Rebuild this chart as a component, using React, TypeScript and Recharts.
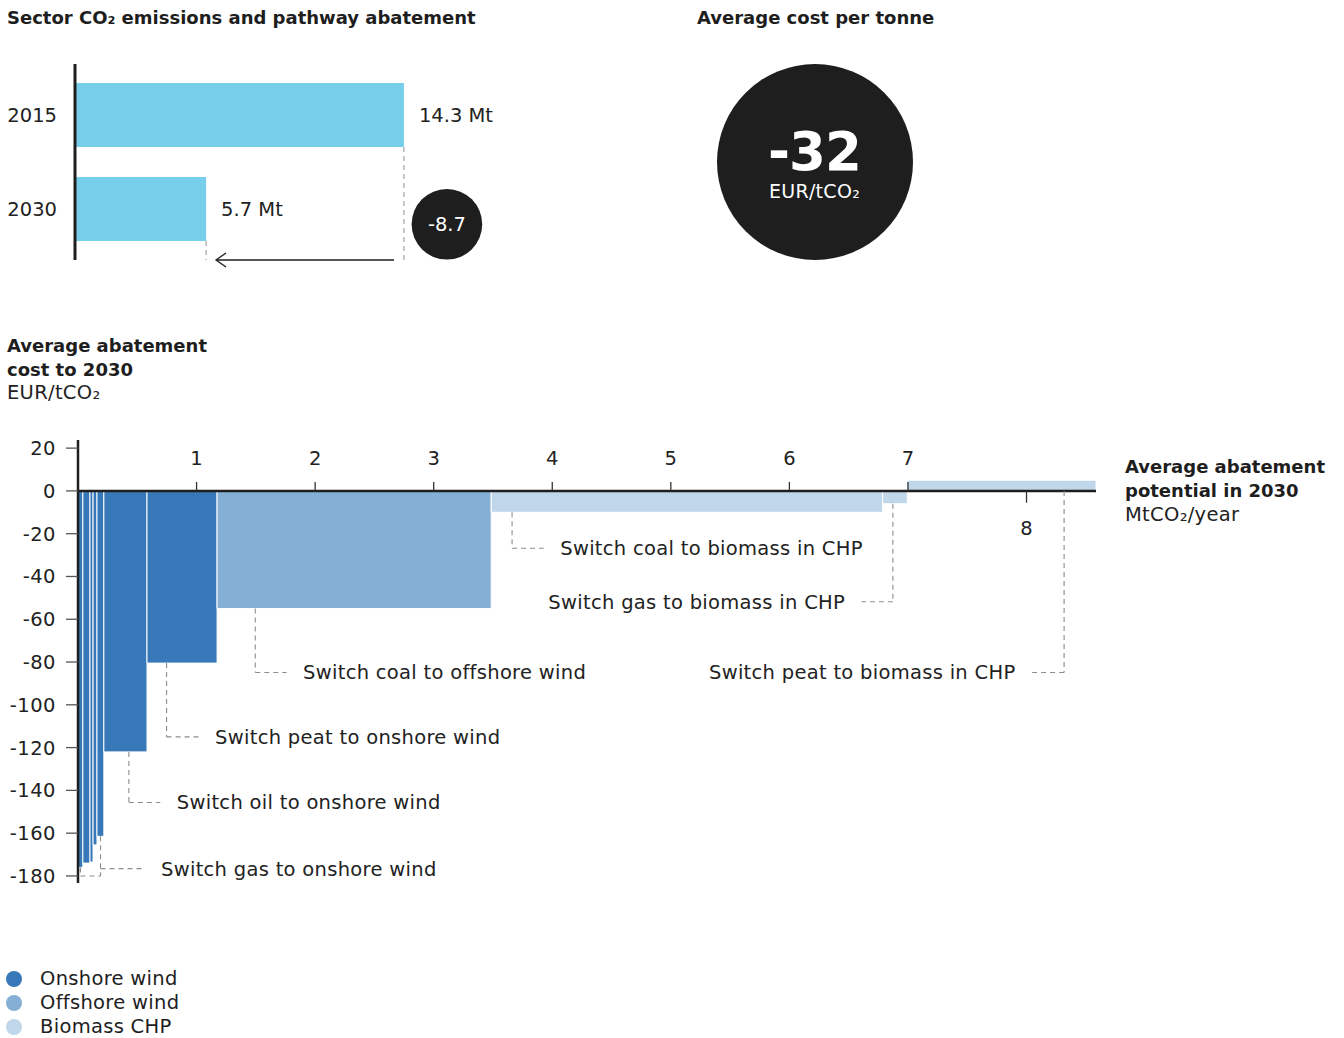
import React from 'react';
import {
  ComposedChart,
  Line,
  XAxis,
  YAxis,
  ReferenceArea,
  ReferenceLine,
  ReferenceDot,
} from 'recharts';

// ---------- data ----------
const emissionYears = ['2015', '2030'];
const emissionValues = [14.3, 5.7];
const abatementDelta = -8.7;
const averageCostPerTonne = -32;

const measureTech = [
  'Onshore wind', 'Onshore wind', 'Onshore wind', 'Onshore wind', 'Onshore wind',
  'Onshore wind', 'Onshore wind', 'Offshore wind', 'Biomass CHP', 'Biomass CHP', 'Biomass CHP',
];
const measurePotential = [0.041, 0.06, 0.026, 0.033, 0.058, 0.364, 0.591, 2.312, 3.302, 0.207, 1.592];
const measureCost = [-176, -174, -173.5, -165.5, -161.5, -122, -80.5, -55, -10, -6, 5];

const groupLabels = [
  'Switch gas to onshore wind',
  'Switch oil to onshore wind',
  'Switch peat to onshore wind',
  'Switch coal to offshore wind',
  'Switch coal to biomass in CHP',
  'Switch gas to biomass in CHP',
  'Switch peat to biomass in CHP',
];
const groupBars = [[0, 1, 2, 3, 4], [5], [6], [7], [8], [9], [10]];

const xTickValues = [1, 2, 3, 4, 5, 6, 7, 8];
const yTickValues = [20, 0, -20, -40, -60, -80, -100, -120, -140, -160, -180];
const legendTechs = ['Onshore wind', 'Offshore wind', 'Biomass CHP'];

// ---------- annotation layout (leader placement, in axis units) ----------
const leaderX = [0.19, 0.429, 0.747, 1.495, 3.661, 6.873, 8.317];
const leaderY = [-176.6, -145.7, -115, -84.9, -26.8, -51.8, -84.9];
const leaderEnd = [0.561, 0.694, 1.017, 1.759, 3.928, 6.609, 8.046];

// ---------- styles ----------
const FONT = '"DejaVu Sans", sans-serif';
const INK = '#1E1E1E';
const TEXT = '#222222';
const DASH = '#8C8C8C';
const techColors: Record<string, string> = {
  'Onshore wind': '#3778B8',
  'Offshore wind': '#86AFD5',
  'Biomass CHP': '#C0D6EA',
};

const starts: number[] = [];
measurePotential.reduce((acc, w, i) => {
  starts[i] = acc;
  return acc + w;
}, 0);
const totalPotential = measurePotential.reduce((a, b) => a + b, 0);
const maccRows = measureCost.map((c, i) => ({ mid: starts[i] + measurePotential[i] / 2, cost: c }));

const emissionRows = emissionYears.map((year, i) => ({
  year,
  value: emissionValues[i],
  row: emissionYears.length - 1 - i,
}));

// top chart layout (row units)
const ROW_PAD = 0.5426;
const BAR_HALF = 32 / 94;
const AXIS_BOTTOM = -ROW_PAD;
const ARROW_GAP = 0.43;

const ArrowShape = (p: any) => {
  const { x1, y1, x2, y2 } = p;
  return (
    <g>
      <line x1={x1} y1={y1} x2={x2} y2={y2} stroke={INK} strokeWidth={1.3} />
      <path d={`M${x2 + 10},${y2 - 7} L${x2},${y2} L${x2 + 10},${y2 + 7}`} fill="none" stroke={INK} strokeWidth={1.3} />
    </g>
  );
};

const labelStyle = { fill: TEXT, fontSize: 19.5, letterSpacing: 0.3 };

function EmissionsChart() {
  return (
    <ComposedChart
      width={540}
      height={218}
      data={emissionRows}
      margin={{ top: 14, right: 5, bottom: 8, left: 0 }}
      style={{ overflow: 'visible' }}
    >
      <XAxis type="number" dataKey="value" domain={[0, 20]} hide allowDataOverflow />
      <YAxis
        type="number"
        domain={[-ROW_PAD, emissionYears.length - 1 + ROW_PAD]}
        ticks={emissionRows.map((r) => r.row)}
        interval={0}
        allowDataOverflow
        tickFormatter={(v: any) => emissionRows.find((r) => r.row === v)?.year ?? ''}
        width={75}
        axisLine={{ stroke: INK, strokeWidth: 3 }}
        tickLine={false}
        tickSize={0}
        tickMargin={18}
        tick={{ fill: TEXT, fontSize: 19.5 }}
      />
      <Line dataKey="row" stroke="none" dot={false} activeDot={false} legendType="none" isAnimationActive={false} />
      {emissionRows.map((r) => (
        <ReferenceArea
          key={'e' + r.year}
          x1={0}
          x2={r.value}
          y1={r.row - BAR_HALF}
          y2={r.row + BAR_HALF}
          fill="#76CEEA"
          fillOpacity={1}
          stroke="none"
          ifOverflow="visible"
          label={{ value: `${r.value} Mt`, position: 'right', offset: 15, fill: TEXT, fontSize: 19.5 }}
        />
      ))}
      {emissionRows.map((r) => (
        <ReferenceLine
          key={'d' + r.year}
          segment={[{ x: r.value, y: r.row - BAR_HALF }, { x: r.value, y: AXIS_BOTTOM }]}
          stroke="#A3A3A3"
          strokeWidth={1.2}
          strokeDasharray="5 4"
          ifOverflow="visible"
        />
      ))}
      <ReferenceLine
        segment={[
          { x: emissionValues[0] - ARROW_GAP, y: AXIS_BOTTOM },
          { x: emissionValues[1] + ARROW_GAP, y: AXIS_BOTTOM },
        ]}
        ifOverflow="visible"
        shape={ArrowShape}
      />
      <ReferenceDot
        x={16.17}
        y={-0.163}
        r={35.3}
        fill={INK}
        stroke="none"
        ifOverflow="visible"
        label={{ value: String(abatementDelta), position: 'center', fill: '#fff', fontSize: 19.5 }}
      />
    </ComposedChart>
  );
}

function MaccChart() {
  // a tick sits below the axis only when it falls well inside a bar that rises above zero
  const positiveCovers = (t: number) =>
    measureCost.some(
      (c, i) => c > 0 && t - starts[i] > 0.1 && starts[i] + measurePotential[i] - t > 0.1,
    );

  const leaders: React.ReactNode[] = [];
  groupBars.forEach((bars, g) => {
    const lastBar = bars[bars.length - 1];
    const barBottom = Math.min(0, measureCost[lastBar]);
    const common = { stroke: DASH, strokeWidth: 1.1, strokeDasharray: '5 4', ifOverflow: 'visible' as const };
    let verticalEnd = leaderY[g];
    if (bars.length > 1) {
      const firstBar = bars[0];
      const bracketY = Math.min(...bars.map((b) => measureCost[b])) - 4;
      const firstMid = starts[firstBar] + measurePotential[firstBar] / 2;
      verticalEnd = Math.min(verticalEnd, bracketY);
      leaders.push(
        <ReferenceLine key={`bk1-${g}`} {...common} segment={[{ x: firstMid, y: measureCost[firstBar] }, { x: firstMid, y: bracketY }]} />,
        <ReferenceLine key={`bk2-${g}`} {...common} segment={[{ x: firstMid, y: bracketY }, { x: leaderX[g], y: bracketY }]} />,
      );
    }
    leaders.push(
      <ReferenceLine key={`v-${g}`} {...common} segment={[{ x: leaderX[g], y: barBottom }, { x: leaderX[g], y: verticalEnd }]} />,
    );
    const toRight = leaderEnd[g] > leaderX[g];
    leaders.push(
      <ReferenceLine
        key={`h-${g}`}
        {...common}
        segment={[{ x: leaderX[g], y: leaderY[g] }, { x: leaderEnd[g], y: leaderY[g] }]}
        label={{ value: groupLabels[g], position: toRight ? 'right' : 'left', offset: 16.5, ...labelStyle }}
      />,
    );
  });

  return (
    <ComposedChart
      width={1110}
      height={480}
      data={maccRows}
      margin={{ top: 20, right: 14, bottom: 17, left: 0 }}
      style={{ overflow: 'visible' }}
    >
      <XAxis type="number" dataKey="mid" domain={[0, totalPotential]} hide allowDataOverflow />
      <YAxis
        type="number"
        domain={[-183.3, 23.8]}
        ticks={yTickValues}
        allowDataOverflow
        interval={0}
        width={78}
        axisLine={{ stroke: INK, strokeWidth: 2.5 }}
        tickLine={{ stroke: '#555', strokeWidth: 1.3 }}
        tickSize={12}
        tickMargin={10}
        tick={{ fill: TEXT, fontSize: 19.5, letterSpacing: 0.5 }}
      />
      <Line dataKey="cost" stroke="none" dot={false} activeDot={false} legendType="none" isAnimationActive={false} />
      {measureCost.map((c, i) => (
        <ReferenceArea
          key={'bar' + i}
          x1={starts[i]}
          x2={starts[i] + measurePotential[i]}
          y1={0}
          y2={c}
          fill={techColors[measureTech[i]]}
          fillOpacity={1}
          stroke="#ffffff"
          strokeWidth={1}
          ifOverflow="visible"
        />
      ))}
      <ReferenceLine y={0} stroke={INK} strokeWidth={2.5} ifOverflow="visible" />
      {xTickValues.map((t) => {
        const below = positiveCovers(t);
        return (
          <ReferenceLine
            key={'xt' + t}
            segment={[{ x: t, y: 0 }, { x: t, y: below ? -5.5 : 4.2 }]}
            stroke="#333"
            strokeWidth={1.3}
            ifOverflow="visible"
            label={{ value: String(t), position: below ? 'bottom' : 'top', offset: below ? 18 : 17, fill: TEXT, fontSize: 19.5 }}
          />
        );
      })}
      {leaders}
    </ComposedChart>
  );
}

const bold = { fontWeight: 700, fontSize: 18, letterSpacing: 0, color: INK } as const;
const regular = { fontSize: 19.5, letterSpacing: 0.3, color: TEXT } as const;

export default function App() {
  return (
    <div
      style={{
        position: 'absolute',
        left: 0,
        top: 0,
        width: 1344,
        height: 1038,
        background: '#fff',
        fontFamily: FONT,
        color: TEXT,
        overflow: 'hidden',
      }}
    >
      <div style={{ position: 'absolute', left: 7, top: 6, lineHeight: '24px', whiteSpace: 'nowrap', ...bold }}>
        Sector CO₂ emissions and pathway abatement
      </div>
      <div style={{ position: 'absolute', left: 697, top: 6, lineHeight: '24px', whiteSpace: 'nowrap', ...bold }}>
        Average cost per tonne
      </div>

      <div style={{ position: 'absolute', left: 0, top: 50, width: 540, height: 218 }}>
        <EmissionsChart />
      </div>

      <div
        style={{
          position: 'absolute',
          left: 814.5 - 98,
          top: 162 - 98,
          width: 196,
          height: 196,
          borderRadius: '50%',
          background: INK,
          color: '#fff',
        }}
      >
        <div
          style={{
            position: 'absolute',
            left: 0,
            width: 196,
            top: 88 - 22,
            height: 44,
            lineHeight: '44px',
            textAlign: 'center',
            fontWeight: 700,
            fontSize: 53,
            letterSpacing: -1,
          }}
        >
          {String(averageCostPerTonne)}
        </div>
        <div
          style={{
            position: 'absolute',
            left: 0,
            width: 196,
            top: 127 - 10,
            height: 20,
            lineHeight: '20px',
            textAlign: 'center',
            fontSize: 19,
            letterSpacing: 0.3,
          }}
        >
          EUR/tCO₂
        </div>
      </div>

      <div style={{ position: 'absolute', left: 7, top: 334, lineHeight: '23.5px', whiteSpace: 'nowrap' }}>
        <div style={bold}>Average abatement</div>
        <div style={bold}>cost to 2030</div>
        <div style={regular}>EUR/tCO₂</div>
      </div>

      <div style={{ position: 'absolute', left: 1125, top: 455, lineHeight: '24px', whiteSpace: 'nowrap' }}>
        <div style={bold}>Average abatement</div>
        <div style={bold}>potential in 2030</div>
        <div style={regular}>MtCO₂/year</div>
      </div>

      <div style={{ position: 'absolute', left: 0, top: 420, width: 1110, height: 480 }}>
        <MaccChart />
      </div>

      <div style={{ position: 'absolute', left: 6, top: 967, lineHeight: '24px' }}>
        {legendTechs.map((t) => (
          <div key={t} style={{ display: 'flex', alignItems: 'center', height: 24 }}>
            <span
              style={{
                display: 'inline-block',
                width: 16,
                height: 16,
                borderRadius: '50%',
                background: techColors[t],
                marginRight: 18,
              }}
            />
            <span style={{ ...regular, color: INK }}>{t}</span>
          </div>
        ))}
      </div>
    </div>
  );
}
